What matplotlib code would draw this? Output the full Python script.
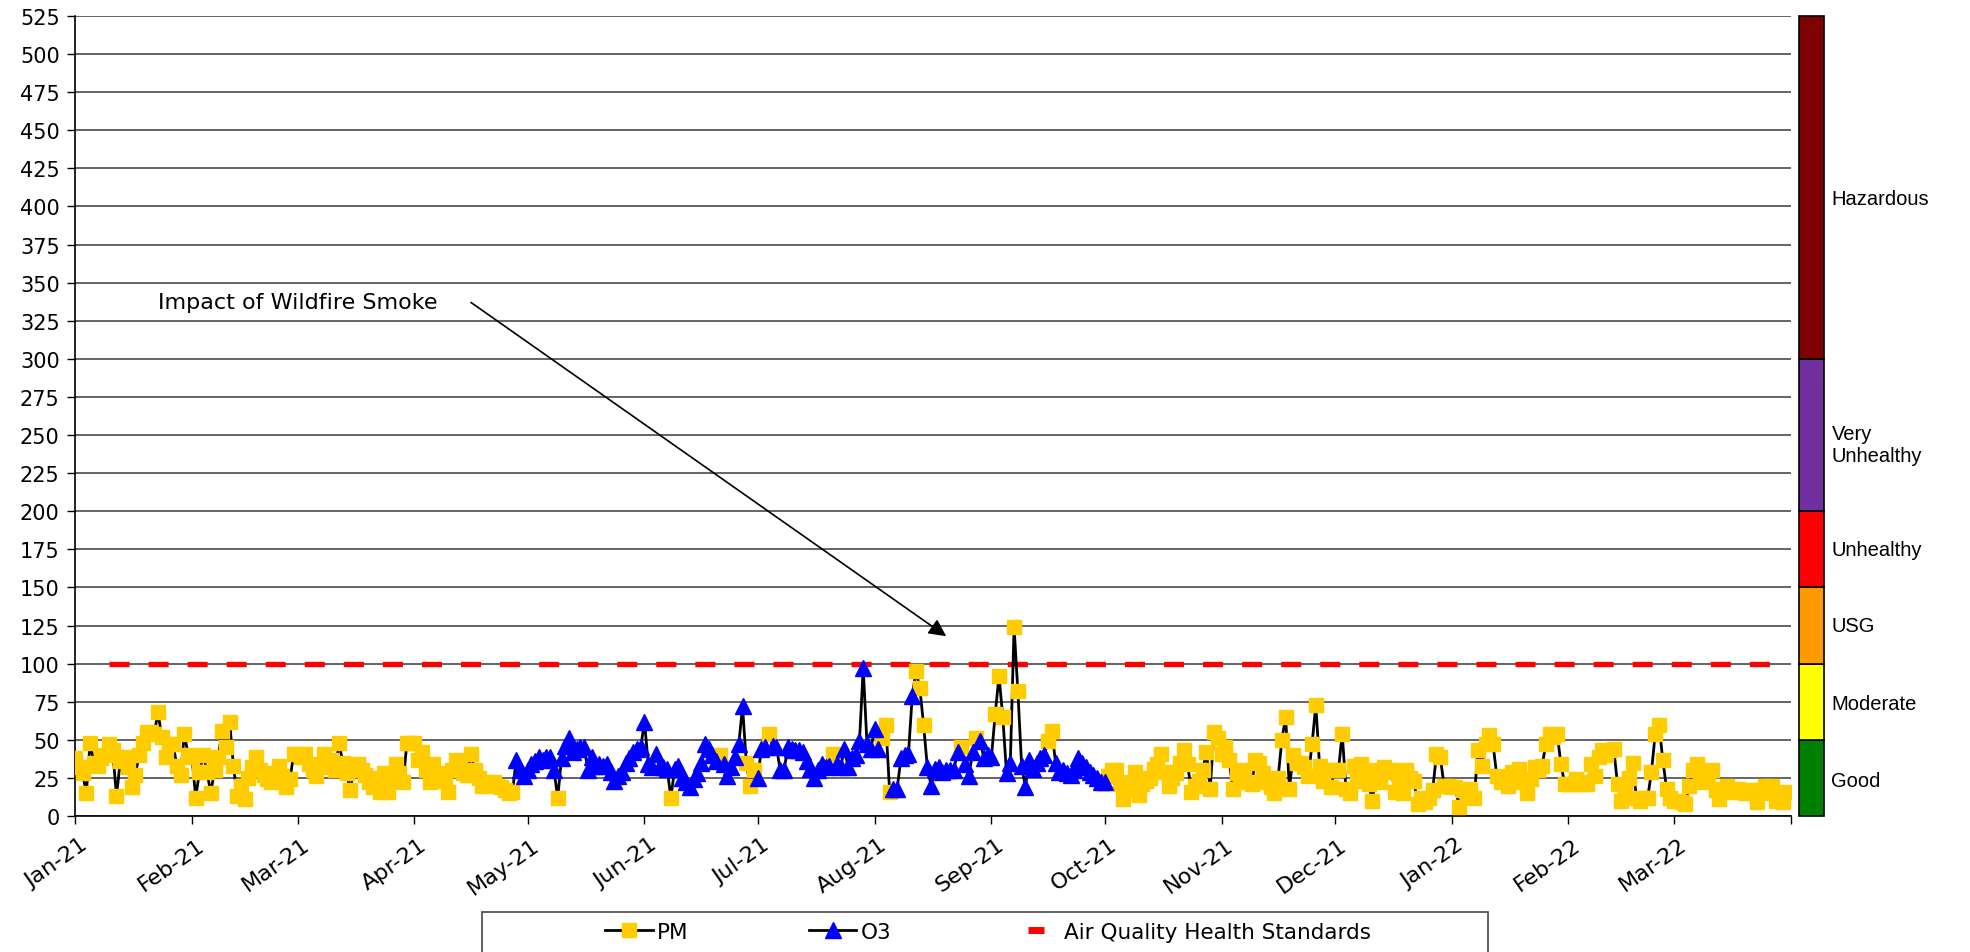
import numpy as np
import pandas as pd
import matplotlib
matplotlib.use("Agg")
import matplotlib.pyplot as plt
from matplotlib.lines import Line2D
from matplotlib.patches import Rectangle
import matplotlib.transforms as mtransforms

# ---------------- data (daily AQI) ----------------
aqi_jan21 = [38, 32, 28, 15, 48, 35, 33, 38, 40, 47, 43, 13, 36, 39, 32, 19, 27, 40, 48, 55,
             55, 54, 68, 52, 39, 47, 47, 33, 27, 54, 40]
aqi_feb21 = [39, 12, 29, 40, 29, 15, 30, 39, 56, 45, 62, 33, 13, 20, 11, 25, 32, 39, 30, 27,
             24, 22, 28, 33, 26, 19, 24, 41]
aqi_mar21 = [41, 39, 41, 34, 30, 26, 32, 41, 33, 37, 30, 48, 35, 28, 17, 32, 34, 30, 27, 22,
             19, 25, 16, 28, 16, 25, 34, 28, 22, 48, 48]
aqi_apr21 = [48, 37, 42, 30, 22, 34, 23, 28, 25, 16, 30, 37, 33, 28, 27, 41, 30, 25, 20, 22,
             21, 22, 20, 19, 17, 15, 16, 37, 30, 26]
aqi_may21 = [30, 34, 36, 39, 37, 39, 39, 30, 12, 38, 46, 51, 42, 44, 45, 45, 30, 39, 33, 34,
             33, 34, 29, 23, 26, 29, 35, 38, 42, 44, 45]
aqi_jun21 = [62, 34, 32, 41, 33, 32, 31, 12, 31, 33, 25, 22, 19, 24, 28, 35, 47, 44, 40, 36,
             40, 34, 26, 32, 39, 47, 72, 35, 20, 30]
aqi_jul21 = [25, 44, 45, 54, 46, 45, 30, 30, 45, 44, 43, 43, 42, 36, 31, 25, 30, 34, 32, 33,
             41, 34, 32, 44, 32, 38, 40, 49, 97, 47, 44]
aqi_aug21 = [57, 44, 51, 60, 16, 18, 18, 38, 40, 41, 79, 95, 84, 60, 32, 20, 31, 32, 29, 30,
             30, 30, 42, 45, 34, 26, 42, 51, 49, 38, 40]
aqi_sep21 = [39, 67, 92, 65, 28, 35, 124, 82, 33, 19, 37, 31, 35, 38, 40, 49, 56, 35, 29, 30,
             28, 27, 30, 38, 35, 32, 29, 27, 25, 22]
aqi_oct21 = [22, 26, 30, 30, 21, 11, 22, 18, 29, 14, 21, 23, 25, 31, 34, 41, 29, 20, 25, 28,
             35, 43, 34, 16, 20, 23, 30, 42, 18, 55, 51]
aqi_nov21 = [41, 45, 37, 18, 28, 24, 30, 22, 21, 37, 35, 28, 22, 19, 15, 25, 50, 65, 18, 40,
             35, 35, 32, 26, 47, 73, 33, 23, 30, 19]
aqi_dec21 = [30, 30, 54, 18, 15, 33, 23, 34, 28, 21, 10, 30, 22, 32, 29, 30, 16, 22, 15, 30,
             25, 23, 8, 12, 9, 12, 17, 41, 39, 20, 20]
aqi_jan22 = [19, 19, 6, 17, 14, 18, 12, 43, 33, 47, 53, 47, 26, 22, 24, 20, 29, 25, 31, 22,
             15, 24, 32, 30, 33, 47, 54, 52, 54, 34, 21]
aqi_feb22 = [21, 21, 24, 21, 22, 21, 34, 26, 39, 43, 40, 43, 44, 21, 10, 19, 25, 35, 12, 10,
             12, 12, 29, 54, 60, 37, 18, 12]
aqi_mar22 = [10, 10, 9, 8, 20, 30, 34, 28, 22, 25, 30, 17, 11, 18, 20, 17, 16, 18, 16, 15,
             17, 17, 9, 15, 20, 18, 20, 10, 12, 9, 16]

first_day = "2021-01-01"
# O3 is the reported pollutant during the ozone season, except on these PM days
o3_first_day = "2021-04-28"
o3_last_day = "2021-10-01"
pm_days_in_o3_season = ["2021-05-09", "2021-06-08", "2021-06-21", "2021-06-28", "2021-06-29",
                        "2021-06-30", "2021-07-04", "2021-07-21", "2021-08-03", "2021-08-04",
                        "2021-08-05", "2021-08-12", "2021-08-13", "2021-08-14", "2021-08-24",
                        "2021-08-28", "2021-09-02", "2021-09-03", "2021-09-04", "2021-09-07",
                        "2021-09-08", "2021-09-16", "2021-09-17"]

standard_value = 100
standard_start, standard_end = "2021-01-10", "2022-03-28"

aqi_bounds = [0, 50, 100, 150, 200, 300, 525]
aqi_categories = ["Good", "Moderate", "USG", "Unhealthy", "Very\nUnhealthy", "Hazardous"]
aqi_label_y = [23, 74, 125, 175, 244, 405]
aqi_colors = ["#008000", "#FFFF00", "#FF9900", "#FF0000", "#7030A0", "#7F0000"]

month_starts = pd.date_range("2021-01-01", "2022-04-01", freq="MS")
month_labels = [d.strftime("%b-%y") for d in month_starts[:-1]] + [""]

annotation_text = "Impact of Wildfire Smoke"
legend_labels = ["PM", "O3", "Air Quality Health Standards"]

# ---------------- build series ----------------
aqi = np.array(aqi_jan21 + aqi_feb21 + aqi_mar21 + aqi_apr21 + aqi_may21 + aqi_jun21 +
               aqi_jul21 + aqi_aug21 + aqi_sep21 + aqi_oct21 + aqi_nov21 + aqi_dec21 +
               aqi_jan22 + aqi_feb22 + aqi_mar22, dtype=float)
dates = pd.date_range(first_day, periods=len(aqi), freq="D")
in_season = (dates >= pd.Timestamp(o3_first_day)) & (dates <= pd.Timestamp(o3_last_day))
is_o3 = in_season & ~dates.isin(pd.to_datetime(pm_days_in_o3_season))
is_pm = ~is_o3

std_dates = pd.date_range(standard_start, standard_end, freq="D")
std_vals = np.full(len(std_dates), standard_value)

# ---------------- figure ----------------
W, H = 1970, 953
fig = plt.figure(figsize=(W / 100, H / 100), dpi=100)
x0, x1, ybot, ytop = 75, 1791, 817, 17
ax = fig.add_axes([x0 / W, 1 - ybot / H, (x1 - x0) / W, (ybot - ytop) / H])

yellow = "#FFCC00"
blue = "#0000FF"

ax.plot(dates, aqi, color="black", lw=2.0, zorder=3)
ax.plot(dates[is_pm], aqi[is_pm], ls="none", marker="s", ms=10, mfc=yellow, mec=yellow, zorder=4)
ax.plot(dates[is_o3], aqi[is_o3], ls="none", marker="^", ms=11, mfc=blue, mec=blue, zorder=5)
ax.plot(std_dates, std_vals, color="#FF0000", lw=3.8, linestyle=(0, (3.8, 3.6)), zorder=2.5)

ax.set_xlim(pd.Timestamp("2021-01-01"), pd.Timestamp("2022-04-01"))
ax.set_ylim(0, 525)
ax.set_yticks(np.arange(0, 526, 25))
ax.yaxis.grid(True, color="#4a4a4a", lw=1.2, zorder=1)
ax.set_axisbelow(True)
for s in ["top", "right"]:
    ax.spines[s].set_visible(False)
for s in ["left", "bottom"]:
    ax.spines[s].set_color("black")
    ax.spines[s].set_linewidth(1.2)

ax.tick_params(axis="y", direction="out", length=6, width=1, labelsize=15, pad=5)
ax.tick_params(axis="x", direction="out", length=6, width=1, labelsize=16, pad=13)
ax.set_xticks(month_starts)
ax.set_xticklabels(month_labels, rotation=35, ha="right", va="center", rotation_mode="anchor")
offset = mtransforms.ScaledTranslation(0.10, 0, fig.dpi_scale_trans)
for lab in ax.get_xticklabels():
    lab.set_transform(lab.get_transform() + offset)

# annotation
ax.text(pd.Timestamp("2021-01-23"), 337, annotation_text, fontsize=16, ha="left", va="center")
ax.annotate("", xy=(pd.Timestamp("2021-08-20"), 118), xytext=(pd.Timestamp("2021-04-16"), 337),
            arrowprops=dict(arrowstyle="-|>", color="black", lw=1.2, mutation_scale=26,
                            shrinkA=0, shrinkB=0))

# AQI category bar
cax = fig.add_axes([1799 / W, 1 - ybot / H, 25 / W, (ybot - ytop) / H])
heights = np.diff(aqi_bounds)
cax.bar(0, heights, bottom=aqi_bounds[:-1], width=1, color=aqi_colors, edgecolor="black",
        lw=1.2, clip_on=False)
cax.set_xlim(-0.5, 0.5)
cax.set_ylim(0, 525)
cax.axis("off")
for ly, lab in zip(aqi_label_y, aqi_categories):
    cax.text(1.3, ly, lab, transform=cax.get_yaxis_transform(), fontsize=14.5,
             family=["Liberation Sans", "DejaVu Sans"], ha="left", va="center",
             linespacing=1.2)

# legend
handles = [
    Line2D([], [], color="black", lw=2, marker="s", ms=10, mfc=yellow, mec=yellow),
    Line2D([], [], color="black", lw=2, marker="^", ms=11, mfc=blue, mec=blue),
    Line2D([], [], ls="none", marker="_", ms=12, mew=5, color="#FF0000"),
]
fig.legend(handles, legend_labels, loc="center", bbox_to_anchor=(988 / W, 1 - 933 / H), ncol=3,
           frameon=False, fontsize=15.5, handlelength=2.2, handletextpad=0.2, columnspacing=5.6,
           numpoints=1)
fig.add_artist(Rectangle((482 / W, -0.05), (1488 - 482) / W, (1 - 913 / H) + 0.05,
                         transform=fig.transFigure, fill=False, edgecolor="#555555", lw=1.3))

fig.savefig("out.png", dpi=100)
